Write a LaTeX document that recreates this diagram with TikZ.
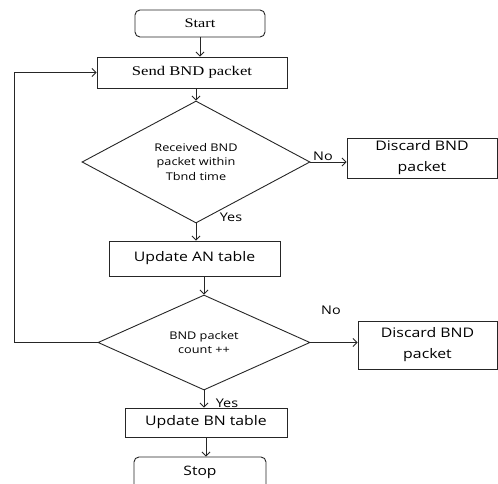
\documentclass[tikz,border=0pt]{standalone}
\usepackage{fontspec}
\setmainfont[FakeStretch=1.25]{Liberation Serif}
\newfontfamily\labelfont[FakeStretch=1.2]{Open Sans}
\usetikzlibrary{shapes.geometric,arrows.meta}
\tikzset{
  base/.style={draw=black!85, line width=0.9pt, inner sep=0pt, align=center},
  roundbox/.style={base, rounded corners=5pt, font=\fontsize{13}{15}\selectfont},
  serifbox/.style={base, font=\fontsize{13.3}{15}\selectfont},
  sansbox/.style={base, font=\labelfont\fontsize{13.2}{21}\selectfont},
  decision/.style={base, diamond, font=\labelfont\fontsize{10.6}{14.5}\selectfont},
  flow/.style={draw=black!85, line width=0.9pt, -{Straight Barb[length=4pt,width=8pt]}},
  lbl/.style={font=\labelfont\fontsize{12}{14}\selectfont, inner sep=0pt}
}
\begin{document}
\begin{tikzpicture}[x=1pt,y=-1pt]
\useasboundingbox (0,0) rectangle (498,484);
\node[roundbox, minimum width=130pt, minimum height=27pt] (start) at (200,23.5) {Start};
\node[serifbox, minimum width=190pt, minimum height=31pt] (send) at (192,72.5) {Send BND packet};
\node[decision, minimum width=228pt, minimum height=122pt] (d1) at (196,162) {Received BND\\packet within\\Tbnd time};
\node[sansbox, minimum width=150pt, minimum height=40pt] (disc1) at (422,158) {Discard BND\\packet};
\node[sansbox, minimum width=171pt, minimum height=35pt] (updan) at (194.5,258.5) {Update AN table};
\node[decision, minimum width=212pt, minimum height=95pt] (d2) at (204,342.5) {BND packet\\count ++};
\node[sansbox, minimum width=139pt, minimum height=48pt] (disc2) at (427.5,345) {Discard BND\\packet};
\node[sansbox, minimum width=162pt, minimum height=29pt] (updbn) at (206,422.5) {Update BN table};
\node[roundbox, minimum width=132pt, minimum height=40pt] (stop) at (200,477) {};
\node[lbl, font=\labelfont\fontsize{13}{15}\selectfont] (stoptxt) at (200,472) {Stop};
\coordinate (lb) at (14,342.5);
\coordinate (lt) at (14,72.5);
\draw[flow] (start.south) -- (start.south |- send.north);
\draw[flow] (d1.north |- send.south) -- (d1.north);
\draw[flow] (d1.east) -- (d1.east -| disc1.west);
\draw[flow] (d1.south) -- (d1.south |- updan.north);
\draw[flow] (d2.north |- updan.south) -- (d2.north);
\draw[flow] (d2.east) -- (d2.east -| disc2.west);
\draw[flow] (d2.south) -- (d2.south |- updbn.north);
\draw[flow] (updbn.south) -- (updbn.south |- stop.north);
\draw[flow] (d2.west) -- (lb) -- (lt) -- (send.west);
\node[lbl] (no1) at (323,156) {No};
\node[lbl] (yes1) at (231,217) {Yes};
\node[lbl] (no2) at (331,310) {No};
\node[lbl] (yes2) at (227,403) {Yes};
\end{tikzpicture}
\end{document}
